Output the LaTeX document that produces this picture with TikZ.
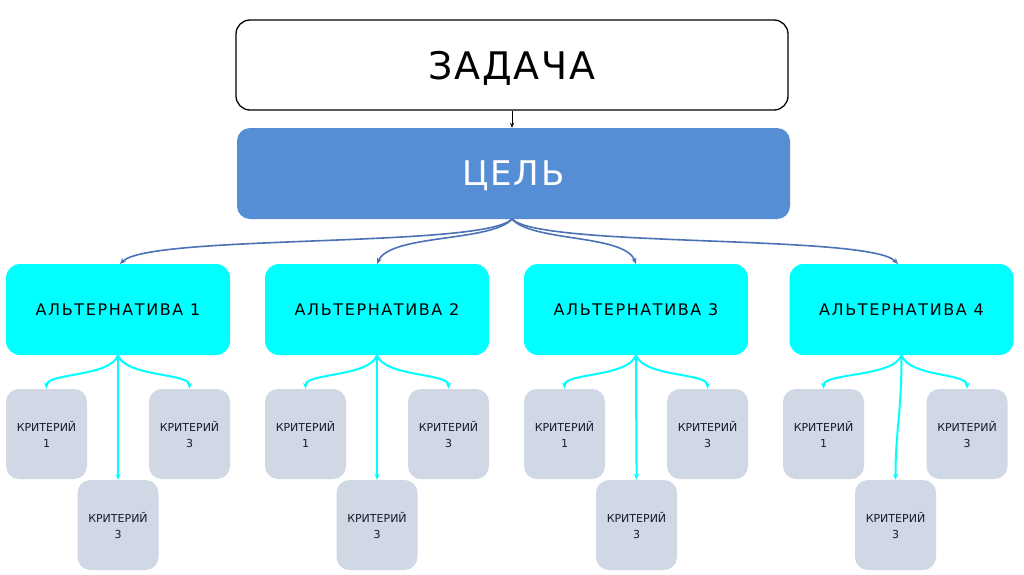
\documentclass[tikz,border=0pt]{standalone}
\usepackage{fontspec}
\setmainfont{DejaVu Sans}
\newfontfamily\widefont[LetterSpace=10]{DejaVu Sans}
\newfontfamily\bigfont[LetterSpace=5]{DejaVu Sans}
\usetikzlibrary{arrows.meta}
\definecolor{goalblue}{HTML}{558ED5}
\definecolor{linkblue}{HTML}{4A72B5}
\definecolor{altcyan}{HTML}{00FFFF}
\definecolor{critgray}{HTML}{D0D7E5}
\definecolor{crittext}{HTML}{1A1A2A}
\begin{document}
\begin{tikzpicture}[x=1pt,y=-1pt,
  taskbox/.style={draw=black,line width=1.3pt,fill=white,rounded corners=14pt,minimum width=552pt,minimum height=90pt,inner sep=0pt,text depth=0pt,font=\bigfont\fontsize{38}{42}\selectfont},
  goalbox/.style={fill=goalblue,rounded corners=13pt,minimum width=553pt,minimum height=91pt,inner sep=0pt,text depth=0pt,text=white,font=\bigfont\fontsize{34}{38}\selectfont},
  altbox/.style={fill=altcyan,rounded corners=14pt,minimum width=224pt,minimum height=91pt,inner sep=0pt,text depth=0pt,font=\widefont\fontsize{16}{18}\selectfont},
  critbox/.style={fill=critgray,rounded corners=13pt,minimum width=81pt,minimum height=90pt,inner sep=0pt,align=center,text=crittext,font=\fontsize{11}{16}\selectfont},
  bluearrow/.style={draw=linkblue,line width=1.6pt,-{Stealth[length=6pt,width=5pt]}},
  cyanarrow/.style={draw=altcyan,line width=2pt,-{Stealth[length=6pt,width=5pt]}},
  blackarrow/.style={draw=black,line width=1pt,-{Stealth[length=5pt,width=4pt]}}
]
\useasboundingbox[fill=white] (0,0) rectangle (1024,574);

\node[taskbox] (task) at (512,65) {ЗАДАЧА};
\node[goalbox] (goal) at (513.5,173.5) {ЦЕЛЬ};
\draw[blackarrow] (task.south) -- (task.south |- goal.north);

\node[altbox] (a1) at (118,309.5) {АЛЬТЕРНАТИВА 1};
\node[altbox] (a2) at (377,309.5) {АЛЬТЕРНАТИВА 2};
\node[altbox] (a3) at (636,309.5) {АЛЬТЕРНАТИВА 3};
\node[altbox] (a4) at (901.5,309.5) {АЛЬТЕРНАТИВА 4};

\coordinate (g) at (512,219);
\coordinate (t1) at (120,264);
\coordinate (t2) at (377,264);
\coordinate (t3) at (636,264);
\coordinate (t4) at (898,264);
\draw[bluearrow] (g) .. controls (485,248) and (150,234) .. (t1);
\draw[bluearrow] (g) .. controls (492,242) and (390,234) .. (t2);
\draw[bluearrow] (g) .. controls (532,242) and (625,234) .. (t3);
\draw[bluearrow] (g) .. controls (540,248) and (870,234) .. (t4);

% criteria
\foreach \i/\xa/\xb/\xc in {1/46.5/189.5/118, 2/305.5/448.5/377, 3/564.5/707.5/636.5, 4/823.5/967/895.5}{
  \node[critbox] (c\i a) at (\xa,434) {КРИТЕРИЙ\\1};
  \node[critbox] (c\i c) at (\xb,434) {КРИТЕРИЙ\\3};
  \node[critbox] (c\i b) at (\xc,525) {КРИТЕРИЙ\\3};
  \draw[cyanarrow] (a\i.south) .. controls +(-8,22) and +(0,-16) .. (c\i a.north);
  \draw[cyanarrow] (a\i.south) .. controls +(8,22) and +(0,-16) .. (c\i c.north);
  \draw[cyanarrow] (a\i.south) .. controls +(0,60) and +(0,-50) .. (c\i b.north);
}
\end{tikzpicture}
\end{document}
